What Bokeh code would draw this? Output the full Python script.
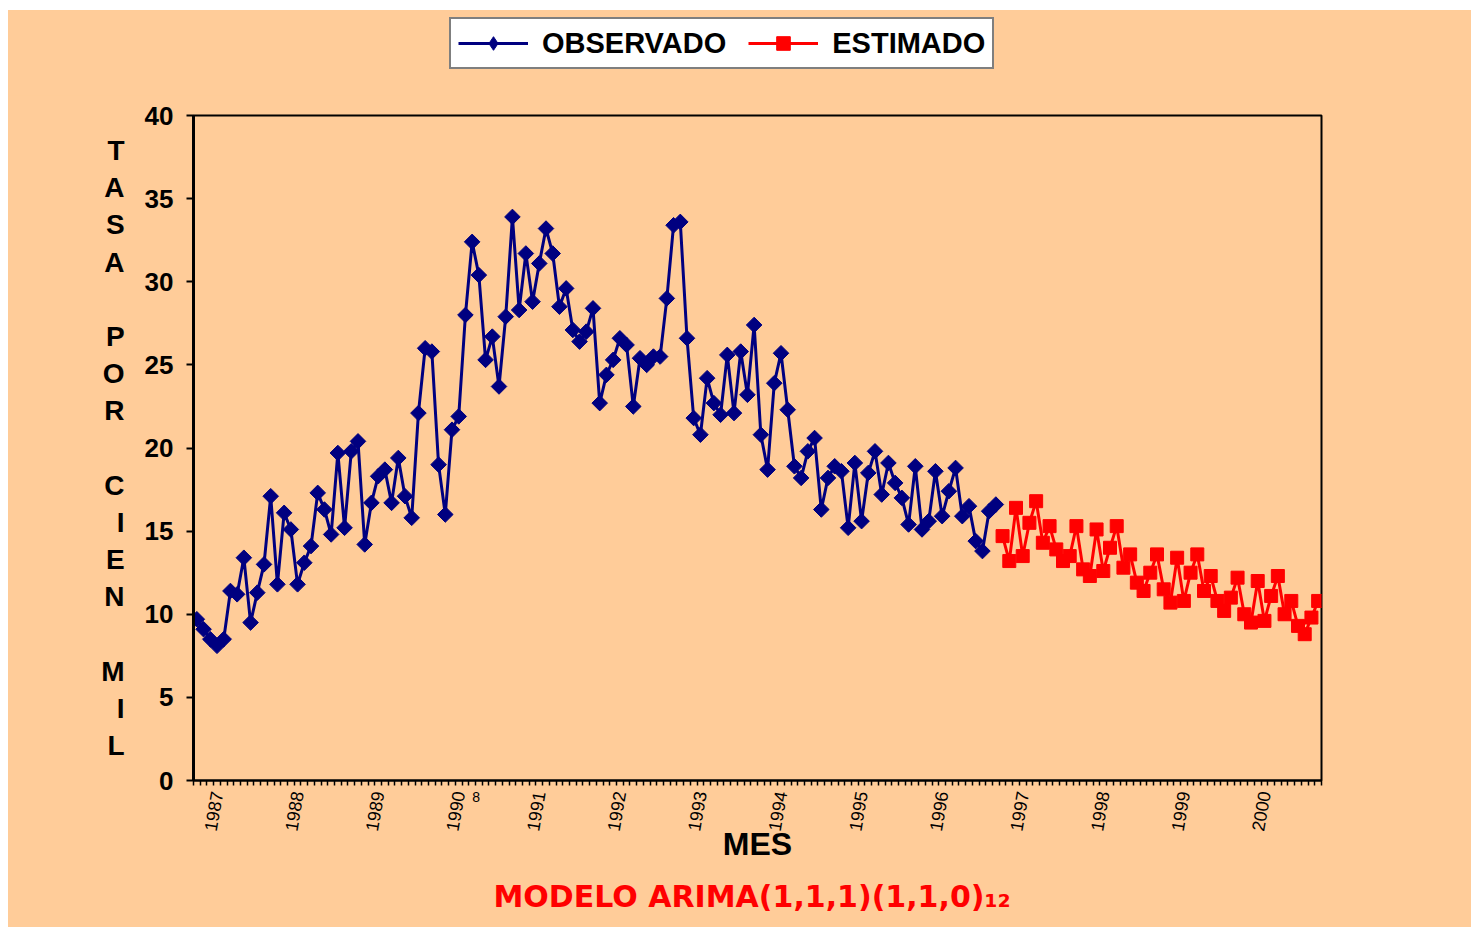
import math
from bokeh.plotting import figure
from bokeh.layouts import column
from bokeh.models import (ColumnDataSource, FixedTicker, CustomJSTickFormatter,
                          Legend, LegendItem, Label, Range1d, Title)
from bokeh.embed import file_html
from bokeh.resources import INLINE

# ---------------- data ----------------
year_labels = ["1987", "1988", "1989", "1990", "1991", "1992", "1993",
               "1994", "1995", "1996", "1997", "1998", "1999", "2000"]

series_names = ["OBSERVADO", "ESTIMADO"]

observed = [
    9.7, 9.1, 8.5, 8.1, 8.5, 11.4, 11.2, 13.4, 9.5, 11.3, 13.0, 17.1,
    11.8, 16.1, 15.1, 11.8, 13.1, 14.1, 17.3, 16.3, 14.8, 19.7, 15.2, 19.8,
    20.4, 14.2, 16.7, 18.3, 18.7, 16.7, 19.4, 17.1, 15.8, 22.1, 26.0, 25.8,
    19.0, 16.0, 21.1, 21.9, 28.0, 32.4, 30.4, 25.3, 26.7, 23.7, 27.9, 33.9,
    28.3, 31.7, 28.8, 31.1, 33.2, 31.7, 28.5, 29.6, 27.1, 26.4, 27.0, 28.4,
    22.7, 24.4, 25.3, 26.6, 26.2, 22.5, 25.4, 25.0, 25.5, 25.5, 29.0, 33.4,
    33.6, 26.6, 21.8, 20.8, 24.2, 22.7, 22.0, 25.6, 22.1, 25.8, 23.2, 27.4,
    20.8, 18.7, 23.9, 25.7, 22.3, 18.9, 18.2, 19.8, 20.6, 16.3, 18.2, 18.9,
    18.6, 15.2, 19.1, 15.6, 18.5, 19.8, 17.2, 19.1, 17.9, 17.0, 15.4, 18.9,
    15.1, 15.6, 18.6, 15.9, 17.4, 18.8, 15.9, 16.5, 14.4, 13.8, 16.2, 16.6,
]

estimated = [
    14.7, 13.2, 16.4, 13.5, 15.5, 16.8, 14.3, 15.3, 13.9, 13.2, 13.5, 15.3,
    12.7, 12.3, 15.1, 12.6, 14.0, 15.3, 12.8, 13.6, 11.9, 11.4, 12.5, 13.6,
    11.5, 10.7, 13.4, 10.8, 12.5, 13.6, 11.4, 12.3, 10.8, 10.2, 11.0, 12.2,
    10.0, 9.5, 12.0, 9.6, 11.1, 12.3, 10.0, 10.8, 9.3, 8.8, 9.8, 10.8,
]

y_ticks = [0, 5, 10, 15, 20, 25, 30, 35, 40]

y_title = "T\nA\nS\nA\n\nP\nO\nR\n\nC\nI\nE\nN\n\nM\nI\nL"
x_title = "MES"
model_title = "MODELO ARIMA(1,1,1)(1,1,0)\u2081\u2082"
stray_note = "8"

# ---------------- styling constants ----------------
n_obs = len(observed)
n_total = n_obs + len(estimated)

BG = "#FFCC99"
NAVY = "#000080"
RED = "#FF0000"

# ---------------- legend strip (separate small figure, frame aligned) ----------------
lf = figure(width=1463, height=85, frame_width=1128, frame_height=85,
            min_border_left=185, min_border_top=0, min_border_right=150,
            min_border_bottom=0,
            x_range=Range1d(0, 1), y_range=Range1d(0, 1),
            x_axis_type=None, y_axis_type=None,
            output_backend="svg", toolbar_location=None,
            background_fill_color=None, border_fill_color=BG,
            outline_line_color=None)
lf.margin = (0, 0, 0, 0)
lf.xgrid.visible = False
lf.ygrid.visible = False
offscreen = ColumnDataSource(dict(x=[-10.0], y=[-10.0]))
ll1 = lf.line("x", "y", source=offscreen, line_color=NAVY, line_width=3)
lm1 = lf.scatter("x", "y", source=offscreen, marker="diamond", size=14,
                 fill_color=NAVY, line_color=NAVY)
ll2 = lf.line("x", "y", source=offscreen, line_color=RED, line_width=3)
lm2 = lf.scatter("x", "y", source=offscreen, marker="square", size=13,
                 fill_color=RED, line_color=RED)
legend = Legend(items=[LegendItem(label=series_names[0], renderers=[ll1, lm1]),
                       LegendItem(label=series_names[1], renderers=[ll2, lm2])],
                orientation="horizontal", location=(256, 26),
                border_line_color="black", border_line_width=2,
                background_fill_color="white", background_fill_alpha=1.0,
                label_text_font="Liberation Sans", label_text_font_style="bold",
                label_text_font_size="29px", label_text_color="black",
                glyph_width=70, glyph_height=34, label_standoff=14,
                spacing=22, padding=7, margin=0)
lf.add_layout(legend, "center")

# ---------------- main figure ----------------
p = figure(width=1463, height=832, frame_width=1128, frame_height=665,
           min_border_left=185, min_border_right=150,
           min_border_top=20, min_border_bottom=147,
           x_range=Range1d(-0.5, n_total - 0.5), y_range=Range1d(0, 40),
           output_backend="svg", toolbar_location=None,
           background_fill_color=BG, border_fill_color=BG,
           outline_line_color="black", outline_line_width=2)
p.margin = (0, 0, 0, 0)
p.xgrid.visible = False
p.ygrid.visible = False

src_obs = ColumnDataSource(dict(x=list(range(n_obs)), y=observed))
src_est = ColumnDataSource(dict(x=list(range(n_obs, n_total)), y=estimated))

p.line("x", "y", source=src_obs, line_color=NAVY, line_width=3)
p.scatter("x", "y", source=src_obs, marker="square", angle=math.pi / 4,
          size=11, fill_color=NAVY, line_color=NAVY, line_width=1)
p.line("x", "y", source=src_est, line_color=RED, line_width=3)
p.scatter("x", "y", source=src_est, marker="square",
          size=13, fill_color=RED, line_color=RED, line_width=1)

# x axis
xa = p.xaxis[0]
xa.ticker = FixedTicker(ticks=[3 + 12 * k for k in range(len(year_labels))],
                        minor_ticks=[k - 0.5 for k in range(n_total + 1)])
xa.formatter = CustomJSTickFormatter(args=dict(labels=year_labels),
                                     code="return labels[Math.round((tick - 3) / 12)];")
xa.major_label_orientation = 1.40
xa.major_tick_line_color = None
xa.major_tick_out = 5
xa.major_tick_in = 0
xa.minor_tick_out = 5
xa.minor_tick_in = 0
xa.minor_tick_line_color = "black"
xa.minor_tick_line_width = 1.5
xa.axis_line_width = 2
xa.axis_line_color = "black"
xa.major_label_text_font = "Liberation Sans"
xa.major_label_text_font_size = "18px"
xa.major_label_text_color = "black"
xa.major_label_standoff = 6
xa.axis_label = x_title
xa.axis_label_text_font = "Liberation Sans"
xa.axis_label_text_font_style = "bold"
xa.axis_label_text_font_size = "32px"
xa.axis_label_text_color = "black"
xa.axis_label_standoff = -10

# y axis
ya = p.yaxis[0]
ya.ticker = FixedTicker(ticks=y_ticks, minor_ticks=[])
ya.major_tick_out = 7
ya.major_tick_in = 0
ya.major_tick_line_width = 2
ya.major_tick_line_color = "black"
ya.minor_tick_line_color = None
ya.axis_line_width = 3
ya.axis_line_color = "black"
ya.major_label_text_font = "Liberation Sans"
ya.major_label_text_font_style = "bold"
ya.major_label_text_font_size = "26px"
ya.major_label_text_color = "black"
ya.major_label_standoff = 13
ya.axis_label = y_title
ya.axis_label_orientation = "horizontal"
ya.axis_label_text_align = "center"
ya.axis_label_text_font = "Liberation Sans"
ya.axis_label_text_font_style = "bold"
ya.axis_label_text_font_size = "28px"
ya.axis_label_text_color = "black"
ya.axis_label_text_line_height = 1.2
ya.axis_label_standoff = 17

# bottom title (model)
p.add_layout(Title(text=model_title, align="left", offset=300,
                   text_font="DejaVu Sans", text_font_style="bold",
                   text_font_size="30px", text_color=RED, standoff=22),
             "below")

# stray small "8" next to the 1990 label (placed in the lower side panel)
p.add_layout(Label(x=41.6, y=-1.0, text=stray_note, text_align="center",
                   text_baseline="middle", text_font="Liberation Sans",
                   text_font_size="14px", text_color="black"), "below")

layout = column(lf, p, spacing=0, margin=(10, 0, 0, 8),
                styles={"background-color": BG})
open("out.html", "w").write(file_html(layout, INLINE))
